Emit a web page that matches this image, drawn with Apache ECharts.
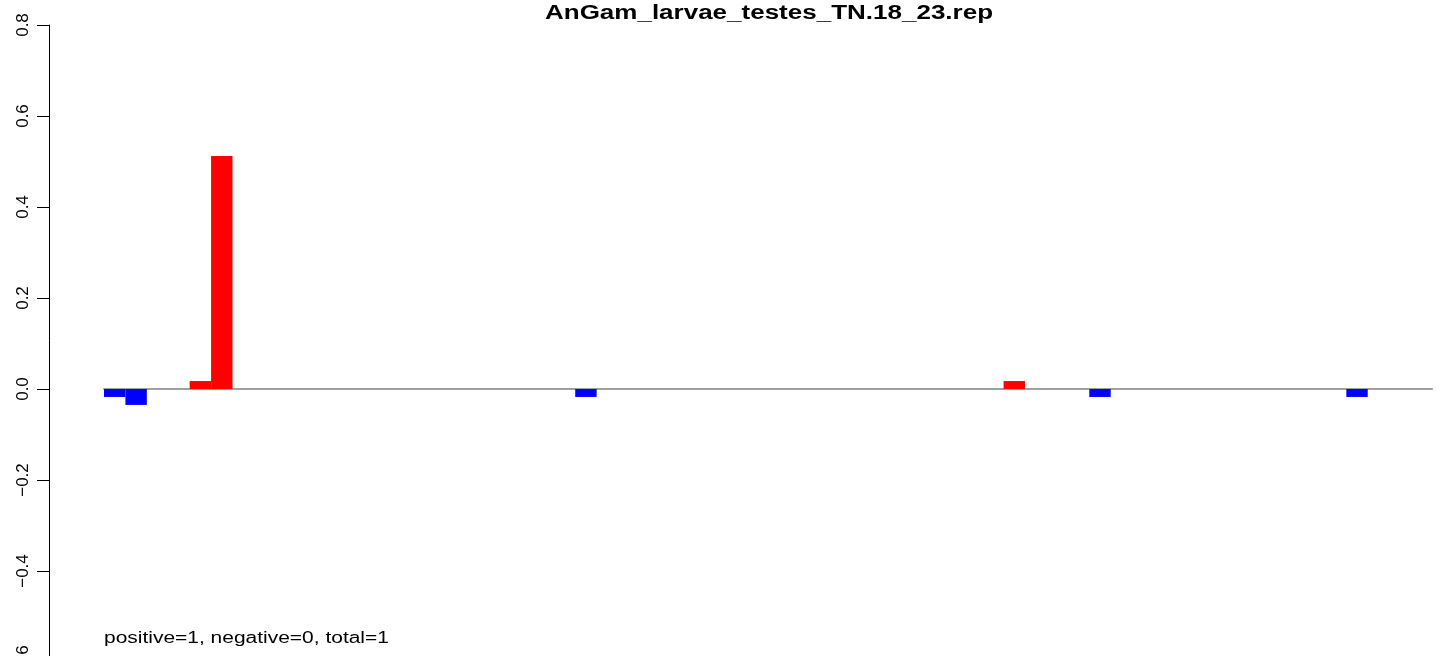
<!DOCTYPE html>
<html>
<head>
<meta charset="utf-8">
<script src="https://cdn.jsdelivr.net/npm/echarts@6/dist/echarts.min.js"></script>
<style>
html,body{margin:0;padding:0;background:#fff;}
#chart{width:1444px;height:656px;}
</style>
</head>
<body>
<div id="chart"></div>
<script>
// ---- data ----
const titleText = "AnGam_larvae_testes_TN.18_23.rep";
const noteText = "positive=1, negative=0, total=1";
const positions = Array.from({length: 62}, (_, i) => String(i + 1));
const values = [
  -0.0175, -0.035, 0, 0, 0.0175, 0.512, 0, 0, 0, 0,
  0, 0, 0, 0, 0, 0, 0, 0, 0, 0,
  0, 0, -0.0175, 0, 0, 0, 0, 0, 0, 0,
  0, 0, 0, 0, 0, 0, 0, 0, 0, 0,
  0, 0, 0.0175, 0, 0, 0, -0.0175, 0, 0, 0,
  0, 0, 0, 0, 0, 0, 0, 0, -0.0175, 0,
  0, 0
];
const yTicks = [-0.6, -0.4, -0.2, 0.0, 0.2, 0.4, 0.6, 0.8];

const chart = echarts.init(document.getElementById('chart'), null, {renderer: 'canvas'});
const FONT = '"Liberation Sans", Arial, Helvetica, sans-serif';

chart.setOption({
  animation: false,
  backgroundColor: '#ffffff',
  grid: {left: 104, width: 1328, top: 25, height: 637, containLabel: false, outerBoundsMode: 'none'},
  xAxis: {
    type: 'category',
    data: positions,
    axisLine: {show: true, onZero: true, lineStyle: {color: '#a0a0a0', width: 2}},
    axisTick: {show: false},
    axisLabel: {show: false},
    splitLine: {show: false}
  },
  yAxis: {
    type: 'value',
    min: yTicks[0],
    max: yTicks[yTicks.length - 1],
    interval: 0.2,
    offset: 55,
    axisLine: {show: true, lineStyle: {color: '#000', width: 1}},
    axisTick: {show: true, inside: false, length: 12, lineStyle: {color: '#000', width: 1}},
    axisLabel: {
      rotate: 90,
      margin: 17,
      color: '#000',
      fontFamily: FONT,
      fontSize: 17,
      formatter: v => v.toFixed(1).replace('-', '\u2212')
    },
    splitLine: {show: false}
  },
  series: [{
    type: 'bar',
    data: values,
    barWidth: '100%',
    barCategoryGap: '0%',
    itemStyle: {
      color: p => (p.value >= 0 ? '#ff0000' : '#0000ff')
    }
  }],
  graphic: [
    {
      type: 'text',
      x: 769, y: 13,
      scaleX: 1.3, scaleY: 1,
      style: {
        text: titleText,
        font: 'bold 20px ' + FONT,
        fill: '#000',
        align: 'center',
        verticalAlign: 'middle'
      }
    },
    {
      type: 'text',
      x: 104, y: 639,
      scaleX: 1.31, scaleY: 1,
      style: {
        text: noteText,
        font: '16px ' + FONT,
        fill: '#000',
        align: 'left',
        verticalAlign: 'middle'
      }
    }
  ]
});
</script>
</body>
</html>
